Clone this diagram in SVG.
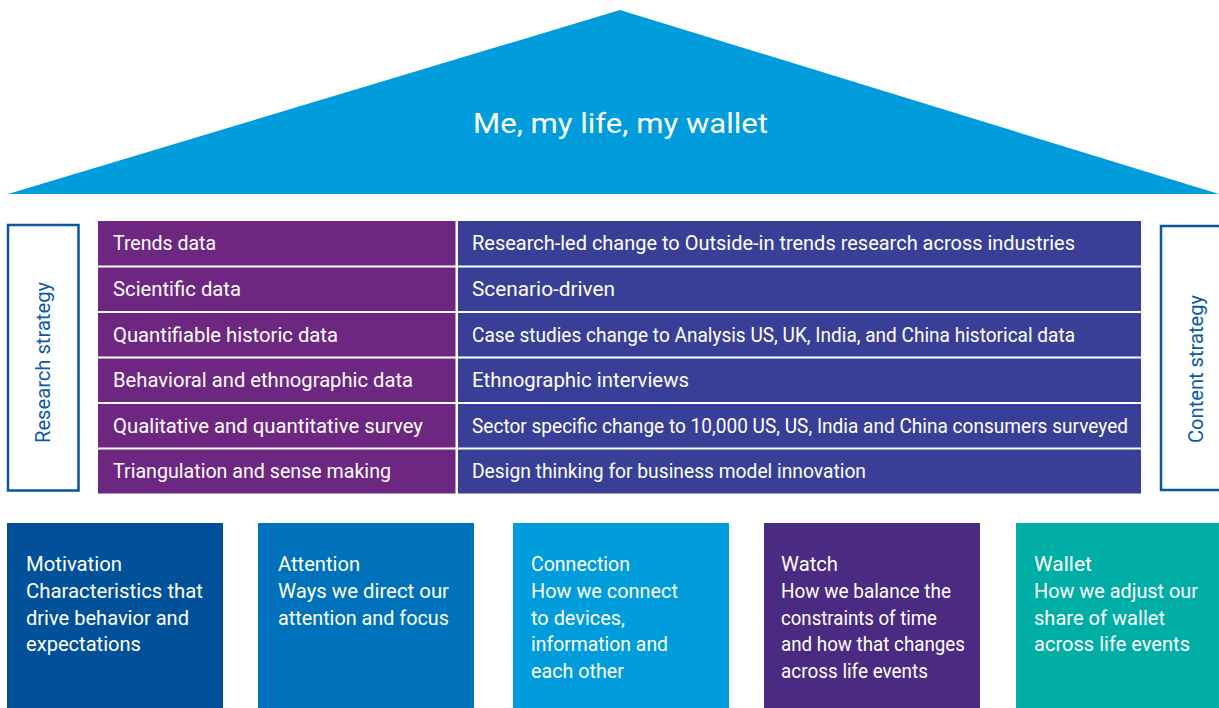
<svg xmlns="http://www.w3.org/2000/svg" width="1219" height="708" viewBox="0 0 1219 708">
  <style>
    text { font-family: "Roboto", "Liberation Sans", sans-serif; }
    .cell { fill: #ffffff; font-size: 21px; }
    .side { fill: #0a5aa6; font-size: 20px; }
    .frame { fill: #ffffff; stroke: #0a57a0; stroke-width: 2.5; }
    .sep { stroke: #ffffff; stroke-width: 2; }
    .pillar { fill: #ffffff; font-size: 20.5px; }
  </style>

  <!-- Roof -->
  <g id="roof">
    <polygon points="620,10 1219,194 8,194" fill="#009cdc"/>
    <text x="473" y="133" fill="#ffffff" font-size="28" textLength="295" lengthAdjust="spacingAndGlyphs">Me, my life, my wallet</text>
  </g>

  <!-- Side frames -->
  <g id="research-strategy">
    <rect class="frame" x="8" y="225" width="70.5" height="265.5"/>
    <text class="side" transform="translate(50,443) rotate(-90)" textLength="161" lengthAdjust="spacingAndGlyphs">Research strategy</text>
  </g>
  <g id="content-strategy">
    <rect class="frame" x="1161" y="226" width="70" height="264"/>
    <text class="side" transform="translate(1203,443) rotate(-90)" textLength="148" lengthAdjust="spacingAndGlyphs">Content strategy</text>
  </g>

  <!-- Strategy table -->
  <g id="strategy-table">
    <rect x="98" y="221" width="358" height="272.5" fill="#6e2781"/>
    <rect x="458" y="221" width="683" height="272.5" fill="#393f97"/>
    <line class="sep" x1="456.5" y1="221" x2="456.5" y2="493.5"/>
    <line class="sep" x1="98" y1="266.5" x2="1141" y2="266.5"/>
    <line class="sep" x1="98" y1="312" x2="1141" y2="312"/>
    <line class="sep" x1="98" y1="357.5" x2="1141" y2="357.5"/>
    <line class="sep" x1="98" y1="403" x2="1141" y2="403"/>
    <line class="sep" x1="98" y1="448.5" x2="1141" y2="448.5"/>

    <text class="cell" x="113" y="250" textLength="103" lengthAdjust="spacingAndGlyphs">Trends data</text>
    <text class="cell" x="113" y="296" textLength="128" lengthAdjust="spacingAndGlyphs">Scientific data</text>
    <text class="cell" x="113" y="342" textLength="225" lengthAdjust="spacingAndGlyphs">Quantifiable historic data</text>
    <text class="cell" x="113" y="387" textLength="300" lengthAdjust="spacingAndGlyphs">Behavioral and ethnographic data</text>
    <text class="cell" x="113" y="433" textLength="310" lengthAdjust="spacingAndGlyphs">Qualitative and quantitative survey</text>
    <text class="cell" x="113" y="478" textLength="278" lengthAdjust="spacingAndGlyphs">Triangulation and sense making</text>

    <text class="cell" x="472" y="250" textLength="603" lengthAdjust="spacingAndGlyphs">Research-led change to Outside-in trends research across industries</text>
    <text class="cell" x="472" y="296" textLength="143" lengthAdjust="spacingAndGlyphs">Scenario-driven</text>
    <text class="cell" x="472" y="342" textLength="603" lengthAdjust="spacingAndGlyphs">Case studies change to Analysis US, UK, India, and China historical data</text>
    <text class="cell" x="472" y="387" textLength="217" lengthAdjust="spacingAndGlyphs">Ethnographic interviews</text>
    <text class="cell" x="472" y="433" textLength="656" lengthAdjust="spacingAndGlyphs">Sector specific change to 10,000 US, US, India and China consumers surveyed</text>
    <text class="cell" x="472" y="478" textLength="394" lengthAdjust="spacingAndGlyphs">Design thinking for business model innovation</text>
  </g>

  <!-- Pillars -->
  <g id="motivation">
    <rect x="7" y="523" width="216" height="185" fill="#00509a"/>
    <text class="pillar" x="26" y="571" textLength="96" lengthAdjust="spacingAndGlyphs">Motivation</text>
    <text class="pillar" x="26" y="598" textLength="177" lengthAdjust="spacingAndGlyphs">Characteristics that</text>
    <text class="pillar" x="26" y="625" textLength="163" lengthAdjust="spacingAndGlyphs">drive behavior and</text>
    <text class="pillar" x="26" y="651" textLength="115" lengthAdjust="spacingAndGlyphs">expectations</text>
  </g>
  <g id="attention">
    <rect x="258" y="523" width="216" height="185" fill="#0071bb"/>
    <text class="pillar" x="278" y="571" textLength="82" lengthAdjust="spacingAndGlyphs">Attention</text>
    <text class="pillar" x="278" y="598" textLength="171" lengthAdjust="spacingAndGlyphs">Ways we direct our</text>
    <text class="pillar" x="278" y="625" textLength="171" lengthAdjust="spacingAndGlyphs">attention and focus</text>
  </g>
  <g id="connection">
    <rect x="513" y="523" width="216" height="185" fill="#009cdc"/>
    <text class="pillar" x="531" y="571" textLength="99" lengthAdjust="spacingAndGlyphs">Connection</text>
    <text class="pillar" x="531" y="598" textLength="147" lengthAdjust="spacingAndGlyphs">How we connect</text>
    <text class="pillar" x="531" y="625" textLength="94" lengthAdjust="spacingAndGlyphs">to devices,</text>
    <text class="pillar" x="531" y="651" textLength="137" lengthAdjust="spacingAndGlyphs">information and</text>
    <text class="pillar" x="531" y="678" textLength="93" lengthAdjust="spacingAndGlyphs">each other</text>
  </g>
  <g id="watch">
    <rect x="764" y="523" width="216" height="185" fill="#4b2a82"/>
    <text class="pillar" x="781" y="571" textLength="57" lengthAdjust="spacingAndGlyphs">Watch</text>
    <text class="pillar" x="781" y="598" textLength="170" lengthAdjust="spacingAndGlyphs">How we balance the</text>
    <text class="pillar" x="781" y="625" textLength="156" lengthAdjust="spacingAndGlyphs">constraints of time</text>
    <text class="pillar" x="781" y="651" textLength="184" lengthAdjust="spacingAndGlyphs">and how that changes</text>
    <text class="pillar" x="781" y="678" textLength="147" lengthAdjust="spacingAndGlyphs">across life events</text>
  </g>
  <g id="wallet">
    <rect x="1016" y="523" width="210" height="185" fill="#00aea6"/>
    <text class="pillar" x="1034" y="571" textLength="58" lengthAdjust="spacingAndGlyphs">Wallet</text>
    <text class="pillar" x="1034" y="598" textLength="164" lengthAdjust="spacingAndGlyphs">How we adjust our</text>
    <text class="pillar" x="1034" y="625" textLength="131" lengthAdjust="spacingAndGlyphs">share of wallet</text>
    <text class="pillar" x="1034" y="651" textLength="156" lengthAdjust="spacingAndGlyphs">across life events</text>
  </g>

  <!-- Connectors: none drawn in this diagram -->
  <g id="connectors"/>
</svg>
